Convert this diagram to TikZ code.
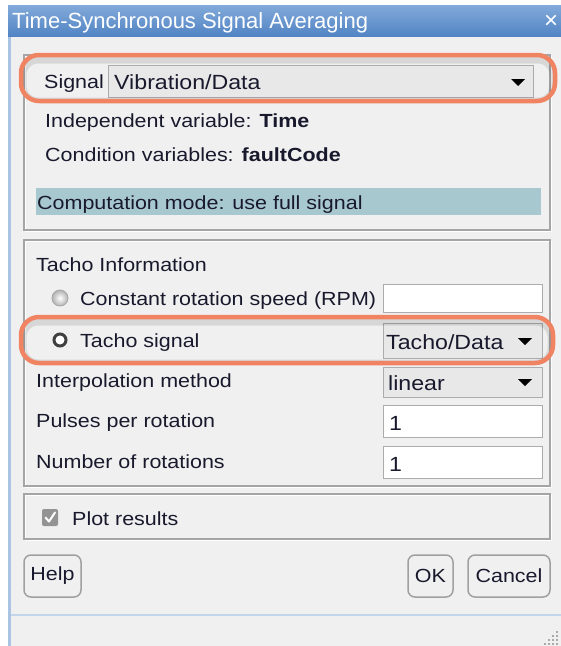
\documentclass[tikz,border=0pt]{standalone}
\usepackage{fontspec}
\setmainfont{Liberation Sans}[FakeStretch=1.13]
\newfontfamily\titlefont{Liberation Sans}
\usetikzlibrary{calc}
\definecolor{bodyc}{RGB}{240,240,240}
\definecolor{framec}{RGB}{170,196,228}
\definecolor{titletop}{RGB}{130,170,218}
\definecolor{titlebot}{RGB}{82,132,196}
\definecolor{ink}{RGB}{25,25,45}
\definecolor{panelc}{RGB}{165,165,165}
\definecolor{orangec}{RGB}{240,132,98}
\definecolor{compc}{RGB}{168,200,208}
\definecolor{boxc}{RGB}{172,172,172}
\definecolor{comboc}{RGB}{232,232,232}
\definecolor{btnc}{RGB}{160,160,160}
\definecolor{sepc}{RGB}{196,214,234}
\definecolor{gripc}{RGB}{170,170,170}
\begin{document}
\begin{tikzpicture}[x=1pt,y=-1pt,
  font=\fontsize{19}{22}\selectfont,
  txt/.style={anchor=base west,inner sep=0pt,text=ink},
  val/.style={txt,font=\fontsize{20.5}{23}\selectfont},
  panel/.style={draw=panelc,line width=1.2pt},
  etch/.style={draw=white,line width=1pt},
  hl/.style={draw=orangec,line width=4.5pt,rounded corners=18pt},
  hlshadow/.style={draw=black,opacity=0.10,line width=9pt,rounded corners=16pt},
  tbox/.style={draw=boxc,fill=white,line width=1.2pt,inner sep=0pt,anchor=north west},
  cbox/.style={draw=boxc,fill=comboc,line width=1.2pt,inner sep=0pt,anchor=north west},
  btn/.style={draw=btnc,fill=bodyc,line width=1.5pt,rounded corners=7pt,inner sep=0pt,text=ink},
  tri/.style={fill=black}
]
\useasboundingbox (0,0) rectangle (561,646);
\fill[white] (0,0) rectangle (561,646);
% window frame and body
\fill[framec] (8,5) rectangle (561,646);
\fill[bodyc] (10.5,36) rectangle (561,646);
% title bar
\shade[top color=titletop,bottom color=titlebot] (8,5) rectangle (561,36);
\node[txt,text=white] (title) at (12,28) {\titlefont\fontsize{22}{24}\selectfont Time-Synchronous Signal Averaging};
\node[txt,text=white] (close) at (544,28) {\titlefont\fontsize{24}{26}\selectfont ×};

% panel 1
\draw[etch] (25,56) rectangle (551,231);
\draw[panel] (24,55) rectangle (550,230);
% panel 2
\draw[etch] (25,241) rectangle (551,487);
\draw[panel] (24,240) rectangle (550,486);
% panel 3
\draw[etch] (25,495) rectangle (551,540);
\draw[panel] (24,494) rectangle (550,539);

% signal row
\node[txt] (siglbl) at (44,88) {Signal};
\node[cbox,minimum width=425pt,minimum height=32pt] (sigbox) at (108,65) {};
\node[val] (sigval) at (114,89) {Vibration/Data};
\fill[tri] (511,79) -- (525,79) -- (518,86) -- cycle;
\begin{scope}
\clip[rounded corners=16pt] (23,57) rectangle (553,99);
\draw[hlshadow] (22,59) rectangle (554,102);
\end{scope}
\draw[hl] (21,55) rectangle (555,101);

\node[txt] (indep) at (45,127) {Independent variable: \textbf{Time}};
\node[txt] (cond) at (45,161) {Condition variables: \textbf{faultCode}};

\fill[compc] (36,188) rectangle (541,215);
\node[txt] (comp) at (37,209) {Computation mode: use full signal};

% tacho panel
\node[txt] (tinfo) at (36,271) {Tacho Information};
\shade[inner color=white,outer color=gray!60] (60,298) circle (8);
\draw[gray!70,line width=0.8pt] (60,298) circle (8);
\node[txt] (crs) at (80,305) {Constant rotation speed (RPM)};
\node[tbox,minimum width=159pt,minimum height=28pt] (rpmbox) at (383,284) {};

\node[cbox,minimum width=159pt,minimum height=35pt] (tachobox) at (383,323) {};
\node[val] (tachoval) at (386,349) {Tacho/Data};
\fill[tri] (518,338) -- (532,338) -- (525,345) -- cycle;
\draw[fill=white,draw=black!75,line width=3pt] (60,340) circle (6);
\node[txt] (tsig) at (80,347) {Tacho signal};
\begin{scope}
\clip[rounded corners=16pt] (23,319) rectangle (551,361);
\draw[hlshadow] (22,321) rectangle (552,364);
\end{scope}
\draw[hl] (21,317) rectangle (553,363);

\node[txt] (interp) at (36,387) {Interpolation method};
\node[cbox,minimum width=159pt,minimum height=30pt] (linbox) at (383,367) {};
\node[val] (linval) at (388,390) {linear};
\fill[tri] (518,379) -- (532,379) -- (525,386) -- cycle;

\node[txt] (pulses) at (36,427) {Pulses per rotation};
\node[tbox,minimum width=159pt,minimum height=32pt] (pulsebox) at (383,405) {};
\node[val] (pulseval) at (389,430) {1};

\node[txt] (nrot) at (36,468) {Number of rotations};
\node[tbox,minimum width=159pt,minimum height=32pt] (nrotbox) at (383,446) {};
\node[val] (nrotval) at (389,471) {1};

% plot results
\fill[rounded corners=2pt,gray!85] (42,509) rectangle (58,526);
\draw[white,line width=2pt,line cap=round,line join=round] (45.5,517.5) -- (49,521.5) -- (55,512.5);
\node[txt] (plot) at (72,525) {Plot results};

% buttons
\node[btn,minimum width=57pt,minimum height=42pt] (help) at (52.5,576) {Help};
\node[btn,minimum width=45pt,minimum height=42pt] (ok) at (430.5,576) {OK};
\node[btn,minimum width=82pt,minimum height=42pt] (cancel) at (509,576) {Cancel};

% separator and grip
\draw[sepc,line width=1.2pt] (10.5,615) -- (561,615);
\foreach \p in {(557,632),(553,636),(557,636),(549,640),(553,640),(557,640),(545,644),(549,644),(553,644),(557,644)}
  \fill[gripc] \p ++(-1,-1) rectangle ++(2,2);
\end{tikzpicture}
\end{document}
